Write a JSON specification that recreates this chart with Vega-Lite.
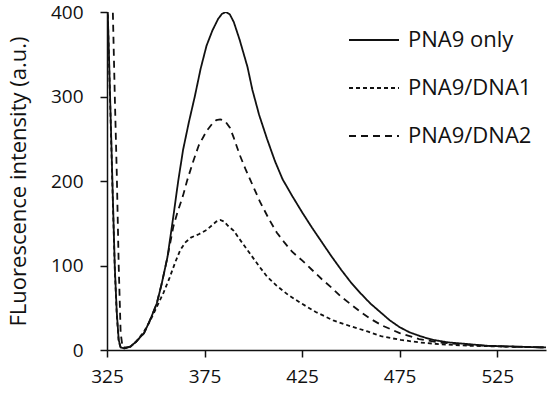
{
  "$schema": "https://vega.github.io/schema/vega-lite/v6.json",
  "width": 439,
  "height": 338,
  "autosize": "none",
  "padding": {"left": 107, "top": 12, "right": 4, "bottom": 43},
  "background": "white",
  "config": {
    "view": {"stroke": null},
    "font": "Open Sans",
    "axis": {"grid": false, "domainColor": "#111", "tickColor": "#111", "labelColor": "#111", "titleColor": "#111", "domainWidth": 1.5, "tickWidth": 1.5, "tickSize": 7, "labelFontSize": 19, "titleFontSize": 22, "labelFont": "Open Sans", "titleFont": "Open Sans", "titleFontWeight": "normal"}
  },
  "datasets": {
    "spec": [
      {"s": "PNA9 only", "wl": 325, "v": 430}, {"s": "PNA9 only", "wl": 326, "v": 350}, {"s": "PNA9 only", "wl": 327, "v": 265}, {"s": "PNA9 only", "wl": 328, "v": 180}, {"s": "PNA9 only", "wl": 329, "v": 98}, {"s": "PNA9 only", "wl": 330, "v": 45}, {"s": "PNA9 only", "wl": 331, "v": 12}, {"s": "PNA9 only", "wl": 332, "v": 3}, {"s": "PNA9 only", "wl": 334, "v": 2}, {"s": "PNA9 only", "wl": 337, "v": 4}, {"s": "PNA9 only", "wl": 340, "v": 10}, {"s": "PNA9 only", "wl": 344, "v": 20}, {"s": "PNA9 only", "wl": 347, "v": 35}, {"s": "PNA9 only", "wl": 350.5, "v": 55}, {"s": "PNA9 only", "wl": 353, "v": 78}, {"s": "PNA9 only", "wl": 356, "v": 110}, {"s": "PNA9 only", "wl": 359, "v": 158}, {"s": "PNA9 only", "wl": 361.5, "v": 200}, {"s": "PNA9 only", "wl": 364, "v": 237}, {"s": "PNA9 only", "wl": 367, "v": 270}, {"s": "PNA9 only", "wl": 370, "v": 300}, {"s": "PNA9 only", "wl": 373, "v": 333}, {"s": "PNA9 only", "wl": 376, "v": 360}, {"s": "PNA9 only", "wl": 379, "v": 378}, {"s": "PNA9 only", "wl": 382, "v": 392}, {"s": "PNA9 only", "wl": 384, "v": 398}, {"s": "PNA9 only", "wl": 386, "v": 400}, {"s": "PNA9 only", "wl": 388, "v": 397}, {"s": "PNA9 only", "wl": 390, "v": 388}, {"s": "PNA9 only", "wl": 393, "v": 367}, {"s": "PNA9 only", "wl": 397, "v": 335}, {"s": "PNA9 only", "wl": 399.5, "v": 308}, {"s": "PNA9 only", "wl": 403, "v": 278}, {"s": "PNA9 only", "wl": 407, "v": 250}, {"s": "PNA9 only", "wl": 411, "v": 224}, {"s": "PNA9 only", "wl": 415, "v": 202}, {"s": "PNA9 only", "wl": 420, "v": 182}, {"s": "PNA9 only", "wl": 425, "v": 163}, {"s": "PNA9 only", "wl": 430, "v": 145}, {"s": "PNA9 only", "wl": 435, "v": 128}, {"s": "PNA9 only", "wl": 440, "v": 111}, {"s": "PNA9 only", "wl": 445, "v": 95}, {"s": "PNA9 only", "wl": 450, "v": 80}, {"s": "PNA9 only", "wl": 455, "v": 67}, {"s": "PNA9 only", "wl": 460, "v": 55}, {"s": "PNA9 only", "wl": 465, "v": 45}, {"s": "PNA9 only", "wl": 470, "v": 35}, {"s": "PNA9 only", "wl": 475, "v": 27}, {"s": "PNA9 only", "wl": 480, "v": 21}, {"s": "PNA9 only", "wl": 486, "v": 16}, {"s": "PNA9 only", "wl": 492, "v": 12}, {"s": "PNA9 only", "wl": 500, "v": 9}, {"s": "PNA9 only", "wl": 510, "v": 7}, {"s": "PNA9 only", "wl": 520, "v": 5}, {"s": "PNA9 only", "wl": 535, "v": 4}, {"s": "PNA9 only", "wl": 550, "v": 3},

      {"s": "PNA9/DNA1", "wl": 325, "v": 430}, {"s": "PNA9/DNA1", "wl": 326, "v": 345}, {"s": "PNA9/DNA1", "wl": 327, "v": 260}, {"s": "PNA9/DNA1", "wl": 328, "v": 175}, {"s": "PNA9/DNA1", "wl": 329, "v": 95}, {"s": "PNA9/DNA1", "wl": 330, "v": 42}, {"s": "PNA9/DNA1", "wl": 331, "v": 10}, {"s": "PNA9/DNA1", "wl": 332, "v": 3}, {"s": "PNA9/DNA1", "wl": 334, "v": 2}, {"s": "PNA9/DNA1", "wl": 337, "v": 4}, {"s": "PNA9/DNA1", "wl": 340, "v": 10}, {"s": "PNA9/DNA1", "wl": 344, "v": 22}, {"s": "PNA9/DNA1", "wl": 347, "v": 34}, {"s": "PNA9/DNA1", "wl": 350.5, "v": 51}, {"s": "PNA9/DNA1", "wl": 354, "v": 68}, {"s": "PNA9/DNA1", "wl": 357, "v": 85}, {"s": "PNA9/DNA1", "wl": 360, "v": 104}, {"s": "PNA9/DNA1", "wl": 362.5, "v": 118}, {"s": "PNA9/DNA1", "wl": 365, "v": 127}, {"s": "PNA9/DNA1", "wl": 368, "v": 133}, {"s": "PNA9/DNA1", "wl": 372, "v": 137}, {"s": "PNA9/DNA1", "wl": 376, "v": 142}, {"s": "PNA9/DNA1", "wl": 379, "v": 148}, {"s": "PNA9/DNA1", "wl": 381, "v": 152}, {"s": "PNA9/DNA1", "wl": 383, "v": 154}, {"s": "PNA9/DNA1", "wl": 385, "v": 152}, {"s": "PNA9/DNA1", "wl": 387, "v": 147}, {"s": "PNA9/DNA1", "wl": 390, "v": 141}, {"s": "PNA9/DNA1", "wl": 393, "v": 131}, {"s": "PNA9/DNA1", "wl": 398, "v": 115}, {"s": "PNA9/DNA1", "wl": 403, "v": 99}, {"s": "PNA9/DNA1", "wl": 407, "v": 87}, {"s": "PNA9/DNA1", "wl": 412, "v": 76}, {"s": "PNA9/DNA1", "wl": 418, "v": 65}, {"s": "PNA9/DNA1", "wl": 424, "v": 56}, {"s": "PNA9/DNA1", "wl": 432, "v": 45}, {"s": "PNA9/DNA1", "wl": 441, "v": 35}, {"s": "PNA9/DNA1", "wl": 450, "v": 28}, {"s": "PNA9/DNA1", "wl": 458.5, "v": 22}, {"s": "PNA9/DNA1", "wl": 466, "v": 16}, {"s": "PNA9/DNA1", "wl": 475.5, "v": 12}, {"s": "PNA9/DNA1", "wl": 485, "v": 9}, {"s": "PNA9/DNA1", "wl": 495, "v": 7}, {"s": "PNA9/DNA1", "wl": 510, "v": 5}, {"s": "PNA9/DNA1", "wl": 530, "v": 4}, {"s": "PNA9/DNA1", "wl": 550, "v": 3},

      {"s": "PNA9/DNA2", "wl": 327, "v": 470}, {"s": "PNA9/DNA2", "wl": 328, "v": 400}, {"s": "PNA9/DNA2", "wl": 329, "v": 300}, {"s": "PNA9/DNA2", "wl": 330, "v": 210}, {"s": "PNA9/DNA2", "wl": 331, "v": 100}, {"s": "PNA9/DNA2", "wl": 332, "v": 20}, {"s": "PNA9/DNA2", "wl": 333, "v": 3}, {"s": "PNA9/DNA2", "wl": 335, "v": 3}, {"s": "PNA9/DNA2", "wl": 337, "v": 4}, {"s": "PNA9/DNA2", "wl": 340, "v": 10}, {"s": "PNA9/DNA2", "wl": 344, "v": 20}, {"s": "PNA9/DNA2", "wl": 347, "v": 35}, {"s": "PNA9/DNA2", "wl": 350.5, "v": 55}, {"s": "PNA9/DNA2", "wl": 353, "v": 78}, {"s": "PNA9/DNA2", "wl": 356, "v": 110}, {"s": "PNA9/DNA2", "wl": 359, "v": 146}, {"s": "PNA9/DNA2", "wl": 361, "v": 162}, {"s": "PNA9/DNA2", "wl": 364, "v": 183}, {"s": "PNA9/DNA2", "wl": 366, "v": 200}, {"s": "PNA9/DNA2", "wl": 369, "v": 222}, {"s": "PNA9/DNA2", "wl": 372, "v": 242}, {"s": "PNA9/DNA2", "wl": 376, "v": 259}, {"s": "PNA9/DNA2", "wl": 379, "v": 268}, {"s": "PNA9/DNA2", "wl": 381, "v": 272}, {"s": "PNA9/DNA2", "wl": 383, "v": 273}, {"s": "PNA9/DNA2", "wl": 385.5, "v": 271}, {"s": "PNA9/DNA2", "wl": 388, "v": 263}, {"s": "PNA9/DNA2", "wl": 390, "v": 251}, {"s": "PNA9/DNA2", "wl": 393, "v": 231}, {"s": "PNA9/DNA2", "wl": 396, "v": 214}, {"s": "PNA9/DNA2", "wl": 398.5, "v": 201}, {"s": "PNA9/DNA2", "wl": 401, "v": 188}, {"s": "PNA9/DNA2", "wl": 403.5, "v": 175}, {"s": "PNA9/DNA2", "wl": 408, "v": 155}, {"s": "PNA9/DNA2", "wl": 412, "v": 139}, {"s": "PNA9/DNA2", "wl": 416, "v": 127}, {"s": "PNA9/DNA2", "wl": 420, "v": 116}, {"s": "PNA9/DNA2", "wl": 425, "v": 106}, {"s": "PNA9/DNA2", "wl": 430, "v": 95}, {"s": "PNA9/DNA2", "wl": 435, "v": 84}, {"s": "PNA9/DNA2", "wl": 440, "v": 74}, {"s": "PNA9/DNA2", "wl": 445, "v": 63}, {"s": "PNA9/DNA2", "wl": 450, "v": 54}, {"s": "PNA9/DNA2", "wl": 455, "v": 45}, {"s": "PNA9/DNA2", "wl": 460, "v": 37}, {"s": "PNA9/DNA2", "wl": 466, "v": 29}, {"s": "PNA9/DNA2", "wl": 475, "v": 20}, {"s": "PNA9/DNA2", "wl": 485, "v": 13}, {"s": "PNA9/DNA2", "wl": 495, "v": 9}, {"s": "PNA9/DNA2", "wl": 510, "v": 6}, {"s": "PNA9/DNA2", "wl": 530, "v": 4}, {"s": "PNA9/DNA2", "wl": 550, "v": 3}
    ]
  },
  "data": {"name": "spec"},
  "mark": {"type": "line", "clip": true, "color": "#111", "strokeWidth": 1.8},
  "encoding": {
    "x": {"field": "wl", "type": "quantitative", "scale": {"domain": [325, 550], "nice": false, "zero": false},
      "axis": {"values": [325, 375, 425, 475, 525], "title": null, "labelPadding": 10, "labelFlush": false}},
    "y": {"field": "v", "type": "quantitative", "scale": {"domain": [0, 400], "nice": false},
      "axis": {"values": [0, 100, 200, 300, 400], "title": "FLuorescence intensity (a.u.)", "labelPadding": 17, "titlePadding": 20}},
    "strokeDash": {"field": "s", "type": "nominal",
      "scale": {"domain": ["PNA9 only", "PNA9/DNA1", "PNA9/DNA2"], "range": [[1, 0], [4, 3], [7, 5]]},
      "legend": {"title": null, "orient": "none", "legendX": 241, "legendY": 2, "symbolType": "stroke", "symbolSize": 2500, "symbolStrokeWidth": 1.8, "symbolStrokeColor": "#111", "labelFontSize": 22, "labelFont": "Open Sans", "labelColor": "#111", "rowPadding": 11, "labelOffset": 8}
    },
    "order": {"field": "wl", "type": "quantitative"}
  }
}
